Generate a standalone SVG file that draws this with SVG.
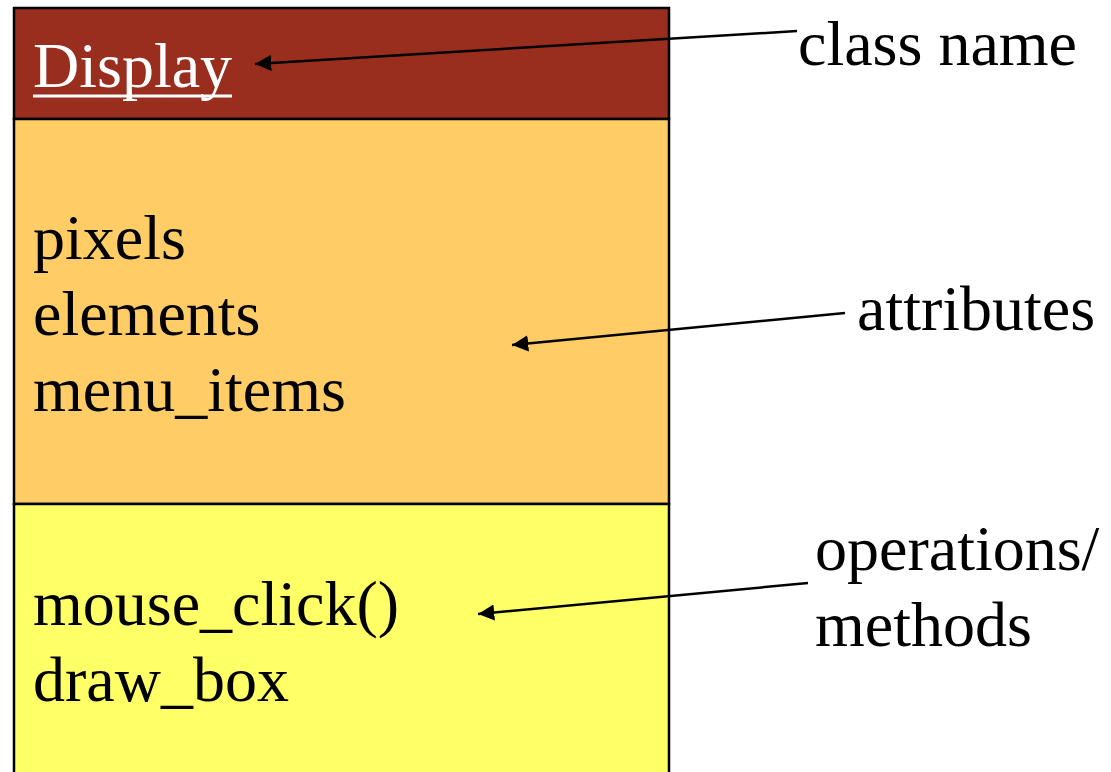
<svg xmlns="http://www.w3.org/2000/svg" width="1111" height="772" viewBox="0 0 1111 772">
<style>
.t{font-family:"Liberation Serif","Times New Roman",serif;font-size:64px;fill:#000}
.w{fill:#fff}
.box{stroke:#000;stroke-width:2.5}
.conn{stroke:#000;stroke-width:2.5;fill:none;marker-end:url(#ah)}
</style>
<defs>
<marker id="ah" viewBox="0 0 10 10" refX="10" refY="5" markerWidth="6.5" markerHeight="6.5" markerUnits="strokeWidth" orient="auto">
<path d="M0,0 L10,5 L0,10 z" fill="#000"/>
</marker>
</defs>
<rect width="1111" height="772" fill="#fff"/>
<g id="class-display">
<rect class="box" x="14" y="8" width="655" height="111" fill="#992E1F"/>
<rect class="box" x="14" y="119" width="655" height="385" fill="#FFCC66"/>
<rect class="box" x="14" y="504" width="655" height="280" fill="#FFFF66"/>
<text class="t w" x="33" y="87">Display</text>
<rect x="33" y="94.5" width="199" height="3" fill="#fff"/>
<text class="t" x="33" y="259">pixels</text>
<text class="t" x="33" y="335">elements</text>
<text class="t" x="33" y="411">menu_items</text>
<text class="t" x="33" y="625">mouse_click()</text>
<text class="t" x="33" y="701">draw_box</text>
</g>
<g id="label-classname"><text class="t" x="798" y="65">class name</text></g>
<g id="label-attributes"><text class="t" x="857" y="330">attributes</text></g>
<g id="label-operations"><text class="t" x="815" y="570">operations/</text><text class="t" x="815" y="646">methods</text></g>
<g id="connectors">
<line class="conn" x1="797" y1="31" x2="255" y2="64"/>
<line class="conn" x1="845" y1="313" x2="512" y2="345"/>
<line class="conn" x1="808" y1="583" x2="478" y2="614"/>
</g>
</svg>
